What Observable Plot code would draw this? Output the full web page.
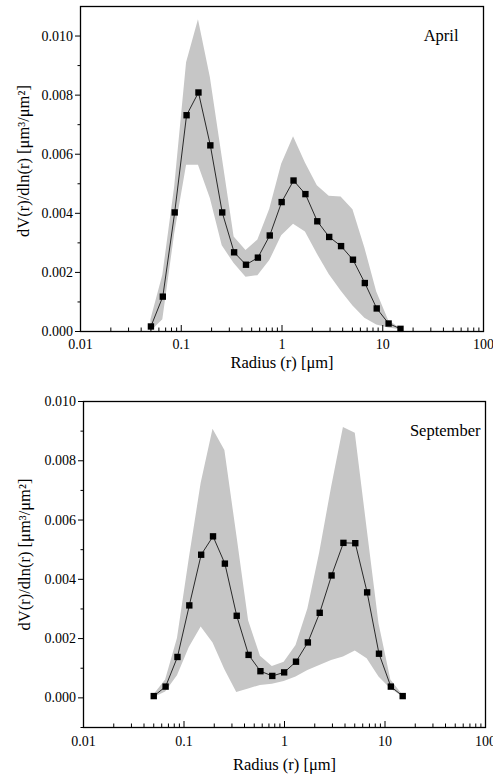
<!DOCTYPE html>
<html><head><meta charset="utf-8">
<script src="https://cdn.jsdelivr.net/npm/d3@7"></script>
<script src="https://cdn.jsdelivr.net/npm/@observablehq/plot@0.6"></script>
<style>
body{margin:0;background:#fff}
#chart svg{display:block}
#chart svg, #chart svg text{font-family:"Liberation Serif","Times New Roman",serif !important}
</style>
</head><body><div id="chart"></div>
<script>
// AERONET size bins (radius, µm)
const radius = [0.05, 0.065604, 0.086077, 0.112939, 0.148184, 0.194429, 0.255105, 0.334716, 0.439173, 0.576227, 0.756052, 0.991996, 1.301571, 1.707757, 2.240702, 2.939966, 3.857452, 5.06126, 6.640745, 8.713145, 11.432287, 15];

const aprMean  = [0.00017, 0.00118, 0.00403, 0.00732, 0.00809, 0.00630, 0.00403, 0.00268, 0.00226, 0.00250, 0.00325, 0.00438, 0.00511, 0.00465, 0.00373, 0.00320, 0.00289, 0.00243, 0.00164, 0.00078, 0.00027, 0.00009];
const aprUpper = [0.0004, 0.0019, 0.0049, 0.0091, 0.01055, 0.0086, 0.0059, 0.0032, 0.00274, 0.0031, 0.00414, 0.00566, 0.00659, 0.0057, 0.00493, 0.00458, 0.00455, 0.00412, 0.00283, 0.00134, 0.00037, 0.0001];
const aprLower = [0, 0.0004, 0.0033, 0.00563, 0.00563, 0.0045, 0.0029, 0.0023, 0.00184, 0.00189, 0.0024, 0.00324, 0.00363, 0.00337, 0.00262, 0.00193, 0.00137, 0.00086, 0.00045, 0.00022, 0.00012, 0.00006];

const sepMean  = [0.00006, 0.00038, 0.00138, 0.00312, 0.00483, 0.00545, 0.00453, 0.00277, 0.00145, 0.00090, 0.00074, 0.00086, 0.00122, 0.00187, 0.00287, 0.00413, 0.00523, 0.00522, 0.00356, 0.00149, 0.00038, 0.00006];
const sepUpper = [0.0001, 0.0006, 0.0020, 0.0047, 0.00724, 0.00906, 0.00835, 0.0055, 0.0026, 0.0014, 0.00106, 0.0012, 0.00177, 0.0030, 0.0049, 0.0071, 0.00912, 0.00893, 0.0057, 0.0025, 0.0006, 0.0001];
const sepLower = [0, 0.0002, 0.00075, 0.0017, 0.00239, 0.00185, 0.00095, 0.00018, 0.0003, 0.00042, 0.00046, 0.00055, 0.0007, 0.00092, 0.00109, 0.00126, 0.00138, 0.00158, 0.00132, 0.0007, 0.0003, 0.00004];

const xMajorTicks = [0.01, 0.1, 1, 10, 100];
const xTickLabels = ["0.01", "0.1", "1", "10", "100"];
const xMinorTicks = [0.01, 0.1, 1, 10].flatMap(d => [2,3,4,5,6,7,8,9].map(k => d * k));
const yMajorTicks = [0, 0.002, 0.004, 0.006, 0.008, 0.010];
const yMinorTicks = [-0.001, 0.001, 0.003, 0.005, 0.007, 0.009];

const xTitle = "Radius (r) [μm]";
const yTitle = "dV(r)/dln(r) [μm³/μm²]";
const serif = "'Liberation Serif', 'Times New Roman', serif";

function panel(o) {
  const data = radius.map((r, i) => ({r, m: o.mean[i], hi: o.upper[i], lo: o.lower[i]}));
  return Plot.plot({
    width: 493, height: o.height,
    marginTop: o.mt, marginBottom: o.mb, marginLeft: o.ml, marginRight: o.mr,
    style: {fontFamily: serif, fontSize: "14px", color: "black", background: "white"},
    x: {type: "log", domain: [0.01, 100]},
    y: {domain: o.yDomain},
    marks: [
      Plot.areaY(data, {x: "r", y1: "lo", y2: "hi", fill: "#c6c6c6"}),
      Plot.lineY(data, {x: "r", y: "m", stroke: "black", strokeWidth: 0.8}),
      Plot.dot(data, {x: "r", y: "m", symbol: "square", fill: "black", r: 3.6}),
      Plot.frame({stroke: "black", strokeWidth: 1.3}),
      Plot.axisY({ticks: yMajorTicks, tickSize: 5, tickPadding: 2.5, tickFormat: d3.format(".3f"), label: null}),
      Plot.axisY({ticks: yMinorTicks.filter(t => t >= o.yDomain[0] && t <= o.yDomain[1]), tickSize: 2.5, tickFormat: () => "", label: null}),
      Plot.axisX({ticks: xMajorTicks, tickSize: -6, tickFormat: () => "", label: null}),
      Plot.axisX({ticks: xMinorTicks, tickSize: -3.5, tickFormat: () => "", label: null}),
      Plot.axisX({ticks: xMajorTicks, tickSize: 0, tickPadding: o.xPad, tickFormat: d => xTickLabels[xMajorTicks.indexOf(d)], label: null}),
      Plot.text([xTitle], {text: d => d, frameAnchor: "bottom", textAnchor: "middle", lineAnchor: "bottom", dy: o.xTitleDy, fontSize: 16.5}),
      Plot.text([yTitle], {text: d => d, frameAnchor: "left", textAnchor: "middle", lineAnchor: "bottom", rotate: -90, dx: o.yTitleDx, dy: o.yTitleDy, fontSize: 16.5}),
      Plot.text([o.name], {text: d => d, frameAnchor: "top-right", textAnchor: "end", lineAnchor: "top", dx: o.nameDx, dy: o.nameDy, fontSize: 16.5})
    ]
  });
}

const chart = document.getElementById("chart");
chart.append(panel({
  mean: aprMean, upper: aprUpper, lower: aprLower, yDomain: [0, 0.011], name: "April",
  height: 385, mt: 6, mb: 54, ml: 80, mr: 10, xPad: 7.5, xTitleDy: 36, yTitleDx: -52, yTitleDy: -8, nameDx: -25, nameDy: 23
}));
chart.append(panel({
  mean: sepMean, upper: sepUpper, lower: sepLower, yDomain: [-0.001, 0.010], name: "September",
  height: 393, mt: 16, mb: 51, ml: 83, mr: 8, xPad: 8.5, xTitleDy: 42, yTitleDx: -54, yTitleDy: -10, nameDx: -5, nameDy: 23
}));
</script></body></html>
